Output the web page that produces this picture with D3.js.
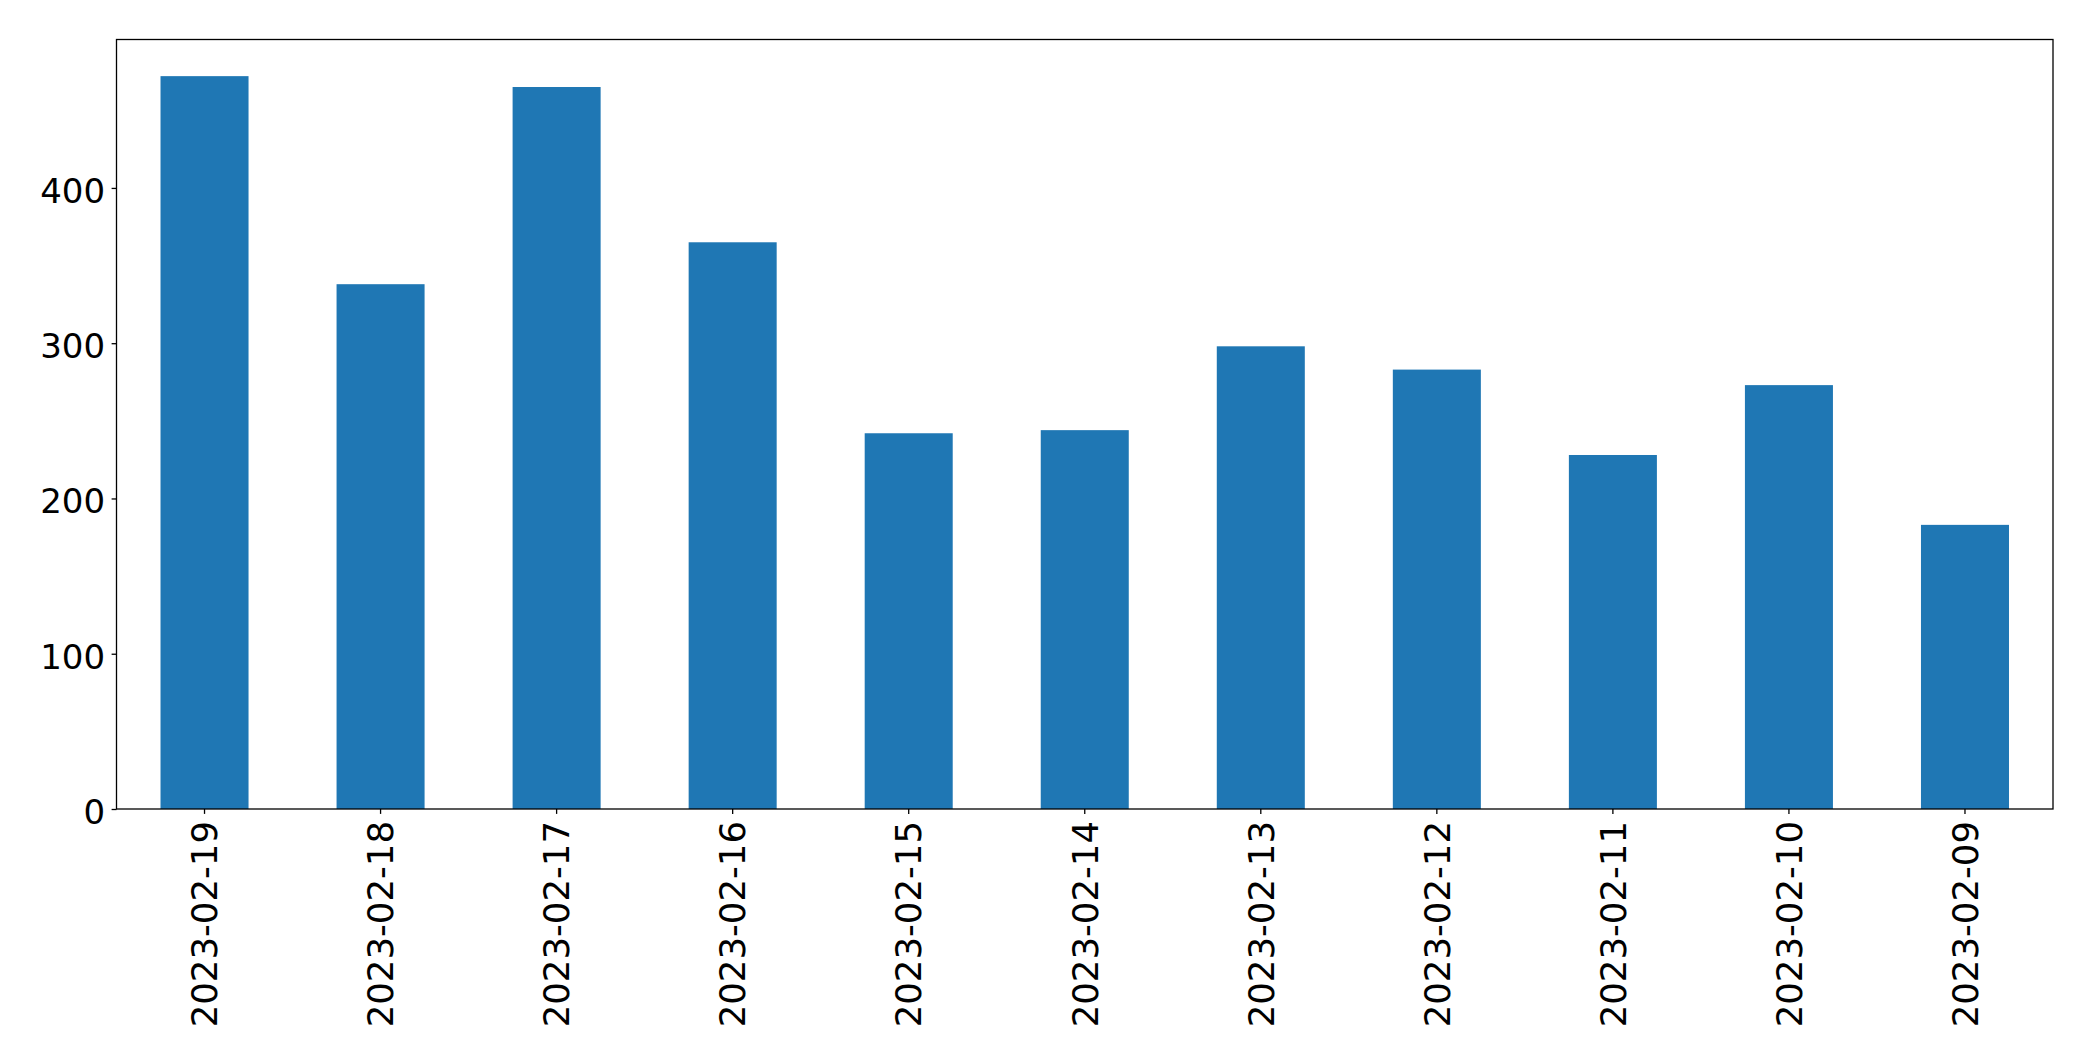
<!DOCTYPE html>
<html>
<head>
<meta charset="utf-8">
<script src="https://cdn.jsdelivr.net/npm/d3@7"></script>
<style>
  html, body { margin: 0; padding: 0; background: #fff; }
  svg { display: block; }
</style>
</head>
<body>
<svg id="chart" width="2093" height="1061"></svg>
<script>
const categories = ["2023-02-19","2023-02-18","2023-02-17","2023-02-16","2023-02-15","2023-02-14","2023-02-13","2023-02-12","2023-02-11","2023-02-10","2023-02-09"];
const values = [472, 338, 465, 365, 242, 244, 298, 283, 228, 273, 183];
const yTicks = [0, 100, 200, 300, 400];

const W = 2093, H = 1061;
const margin = { left: 116.5, right: 40, top: 39.5, bottom: 252 };
const plotW = W - margin.left - margin.right;
const plotH = H - margin.top - margin.bottom;
const yFontSize = 34;
const xFontSize = 35.5;
const fontFamily = "'DejaVu Sans', sans-serif";

const svg = d3.select("#chart");
const g = svg.append("g").attr("transform", `translate(${margin.left},${margin.top})`);

const x = d3.scaleBand().domain(categories).range([0, plotW]).paddingInner(0.5).paddingOuter(0.25);
const y = d3.scaleLinear().domain([0, d3.max(values) * 1.05]).range([plotH, 0]);

g.selectAll("rect.bar").data(categories).enter().append("rect")
  .attr("class", "bar")
  .attr("x", d => x(d))
  .attr("width", x.bandwidth())
  .attr("y", (d, i) => y(values[i]))
  .attr("height", (d, i) => plotH - y(values[i]))
  .attr("fill", "#1f77b4");

// frame
g.append("rect").attr("x", 0).attr("y", 0).attr("width", plotW).attr("height", plotH)
  .attr("fill", "none").attr("stroke", "#000").attr("stroke-width", 1.3);

// y axis
const yAxis = d3.axisLeft(y).tickValues(yTicks).tickSize(4.9).tickPadding(6.5).tickFormat(d3.format("d"));
const ya = g.append("g").call(yAxis);
ya.select(".domain").remove();
ya.selectAll(".tick line").attr("stroke", "#000").attr("stroke-width", 1.3);
ya.selectAll(".tick text").attr("font-family", fontFamily).attr("font-size", yFontSize)
  .attr("fill", "#000").attr("dy", "0.42em");

// x axis
const xAxis = d3.axisBottom(x).tickSize(4.9).tickPadding(6);
const xa = g.append("g").attr("transform", `translate(0,${plotH})`).call(xAxis);
xa.select(".domain").remove();
xa.selectAll(".tick line").attr("stroke", "#000").attr("stroke-width", 1.3);
xa.selectAll(".tick text")
  .attr("font-family", fontFamily).attr("font-size", xFontSize).attr("fill", "#000")
  .attr("text-anchor", "end")
  .attr("transform", "rotate(-90)")
  .attr("x", -12).attr("y", 0).attr("dy", "0.36em");
</script>
</body>
</html>
